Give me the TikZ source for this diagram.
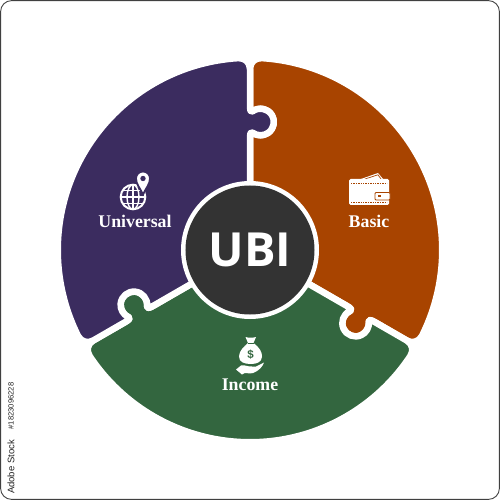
\documentclass[tikz,border=0pt]{standalone}
\usepackage{fontspec}
\newfontfamily\labelfont{Liberation Serif}
\newfontfamily\hubfont{Open Sans}
\newfontfamily\sidefont{Liberation Sans}
\definecolor{uPurple}{HTML}{3B2C5F}
\definecolor{bOrange}{HTML}{A84400}
\definecolor{iGreen}{HTML}{33663F}
\definecolor{hubDark}{HTML}{333333}
\definecolor{sideText}{HTML}{222222}
\tikzset{
  piece/.style={fill=#1,draw=white,line width=6.5pt,line join=round},
  seglabel/.style={text=white,font=\labelfont\bfseries\fontsize{17.8}{20}\selectfont,inner sep=0pt},
  sidelabel/.style={text=sideText,rotate=90,inner sep=0pt},
}
\newcommand{\puzzlepiece}[2]{%
  \begin{scope}[rotate=#2]
  \path[piece=#1] (0,50) -- (0,111)
    .. controls (0,116) and (0.4,118.8) .. (2.87,117.1)
    arc[start angle=-125,end angle=125,radius=13.3]
    .. controls (0.4,137.2) and (0,140) .. (0,145)
    -- (0,181) .. controls (0,187.5) and (5,192.1) .. (86.58:192.25)
    arc[start angle=86.58,end angle=-26.58,radius=192.25]
    .. controls ([rotate=-120]-5,192.1) and ([rotate=-120]0,187.5) .. ([rotate=-120]0,181)
    -- ([rotate=-120]0,145)
    .. controls ([rotate=-120]0,140) and ([rotate=-120]0.4,137.2) .. ([rotate=-120]2.87,138.9)
    arc[start angle=5,end angle=-245,radius=13.3]
    .. controls ([rotate=-120]0.4,118.8) and ([rotate=-120]0,116) .. ([rotate=-120]0,111)
    -- ([rotate=-120]0,50) -- cycle;
  \end{scope}}
\begin{document}
\begin{tikzpicture}[x=1pt,y=1pt]
\useasboundingbox (-250,-250) rectangle (250,250);
\draw[fill=white,draw=black!75,line width=0.9pt,rounded corners=11pt] (-249.4,-249.4) rectangle (249.4,249.4);
% pieces
\puzzlepiece{bOrange}{0}
\puzzlepiece{iGreen}{-120}
\puzzlepiece{uPurple}{120}
% hub
\fill[white] (0,0) circle[radius=69];
\node[circle,fill=hubDark,minimum size=129pt,inner sep=0pt,text=white,font=\hubfont\bfseries\fontsize{47}{50}\selectfont] (hub) at (0,0) {UBI};
% labels
\node[seglabel] (universal) at (-115,29) {Universal};
\node[seglabel] (basic) at (119,29) {Basic};
\node[seglabel] (income) at (0,-135) {Income};
% globe icon
\begin{scope}
  \draw[white,line width=2pt] (-117,53) circle[radius=12.3];
  \begin{scope}
    \clip (-117,53) circle[radius=12.3];
    \draw[white,line width=1.4pt] (-117,53) ellipse[x radius=6,y radius=12.3];
    \draw[white,line width=1.4pt] (-117,65.3) -- (-117,40.7);
    \draw[white,line width=1.4pt] (-130,53) -- (-104,53);
    \draw[white,line width=1.4pt] (-130,59.5) -- (-104,59.5);
    \draw[white,line width=1.4pt] (-130,46.5) -- (-104,46.5);
  \end{scope}
  \draw[fill=white,draw=uPurple,line width=1.8pt] (-107,55.5)
    .. controls (-110,62) and (-114,66) .. (-114,71.5)
    arc[start angle=180,end angle=0,radius=7]
    .. controls (-100,66) and (-104,62) .. cycle;
  \fill[uPurple] (-107,71.5) circle[radius=2.7];
\end{scope}
% wallet icon
\begin{scope}
  \fill[white] (111,71) -- (128,77) -- (133,71) -- cycle;
  \draw[bOrange,line width=0.7pt] (115,71) -- (128,75.2) -- (131,71);
  \fill[white,rounded corners=1.5pt] (99,71) rectangle (139,45);
  \draw[bOrange,line width=0.7pt,dash pattern=on 1.4pt off 1pt] (101,67) -- (137,67);
  \draw[bOrange,line width=0.7pt,dash pattern=on 1.4pt off 1pt] (101,48) -- (137,48);
  \draw[fill=white,draw=bOrange,line width=0.9pt,rounded corners=1pt] (125,57.5) rectangle (140,50);
  \fill[bOrange] (128,52.6) rectangle (131,55);
\end{scope}
% money bag icon
\begin{scope}
  \fill[white] (-4.5,-87) .. controls (-2,-88) and (3,-88) .. (6,-87)
    -- (3.5,-93) .. controls (9,-97) and (12.5,-102) .. (12,-107)
    .. controls (11.5,-112) and (7,-114) .. (1,-114)
    .. controls (-6,-114) and (-11,-112) .. (-11,-106.5)
    .. controls (-11,-101) and (-6,-96.5) .. (-2,-93) -- cycle;
  \draw[iGreen,line width=0.8pt] (-2.5,-93.3) -- (4,-93.3);
  \node[text=iGreen,inner sep=0pt,font=\sidefont\bfseries\fontsize{11.5}{12}\selectfont] (dollar) at (0.5,-104.5) {\$};
  \fill[white] (-14,-119.5) -- (-9,-115.5) .. controls (-5,-114.5) and (-2,-117) .. (2,-116.5)
    -- (6,-116.5) -- (14,-112.5) .. controls (13,-116) and (9,-121) .. (3,-123)
    .. controls (-1,-124.5) and (-5,-121.5) .. (-8,-124.5) -- cycle;
\end{scope}
% side labels
\node[sidelabel,font=\sidefont\fontsize{9.5}{10}\selectfont] (stock) at (-239,-217) {Adobe Stock};
\node[sidelabel,font=\sidefont\fontsize{7.6}{9}\selectfont] (imgid) at (-239,-156) {\#1823096228};
\end{tikzpicture}
\end{document}
